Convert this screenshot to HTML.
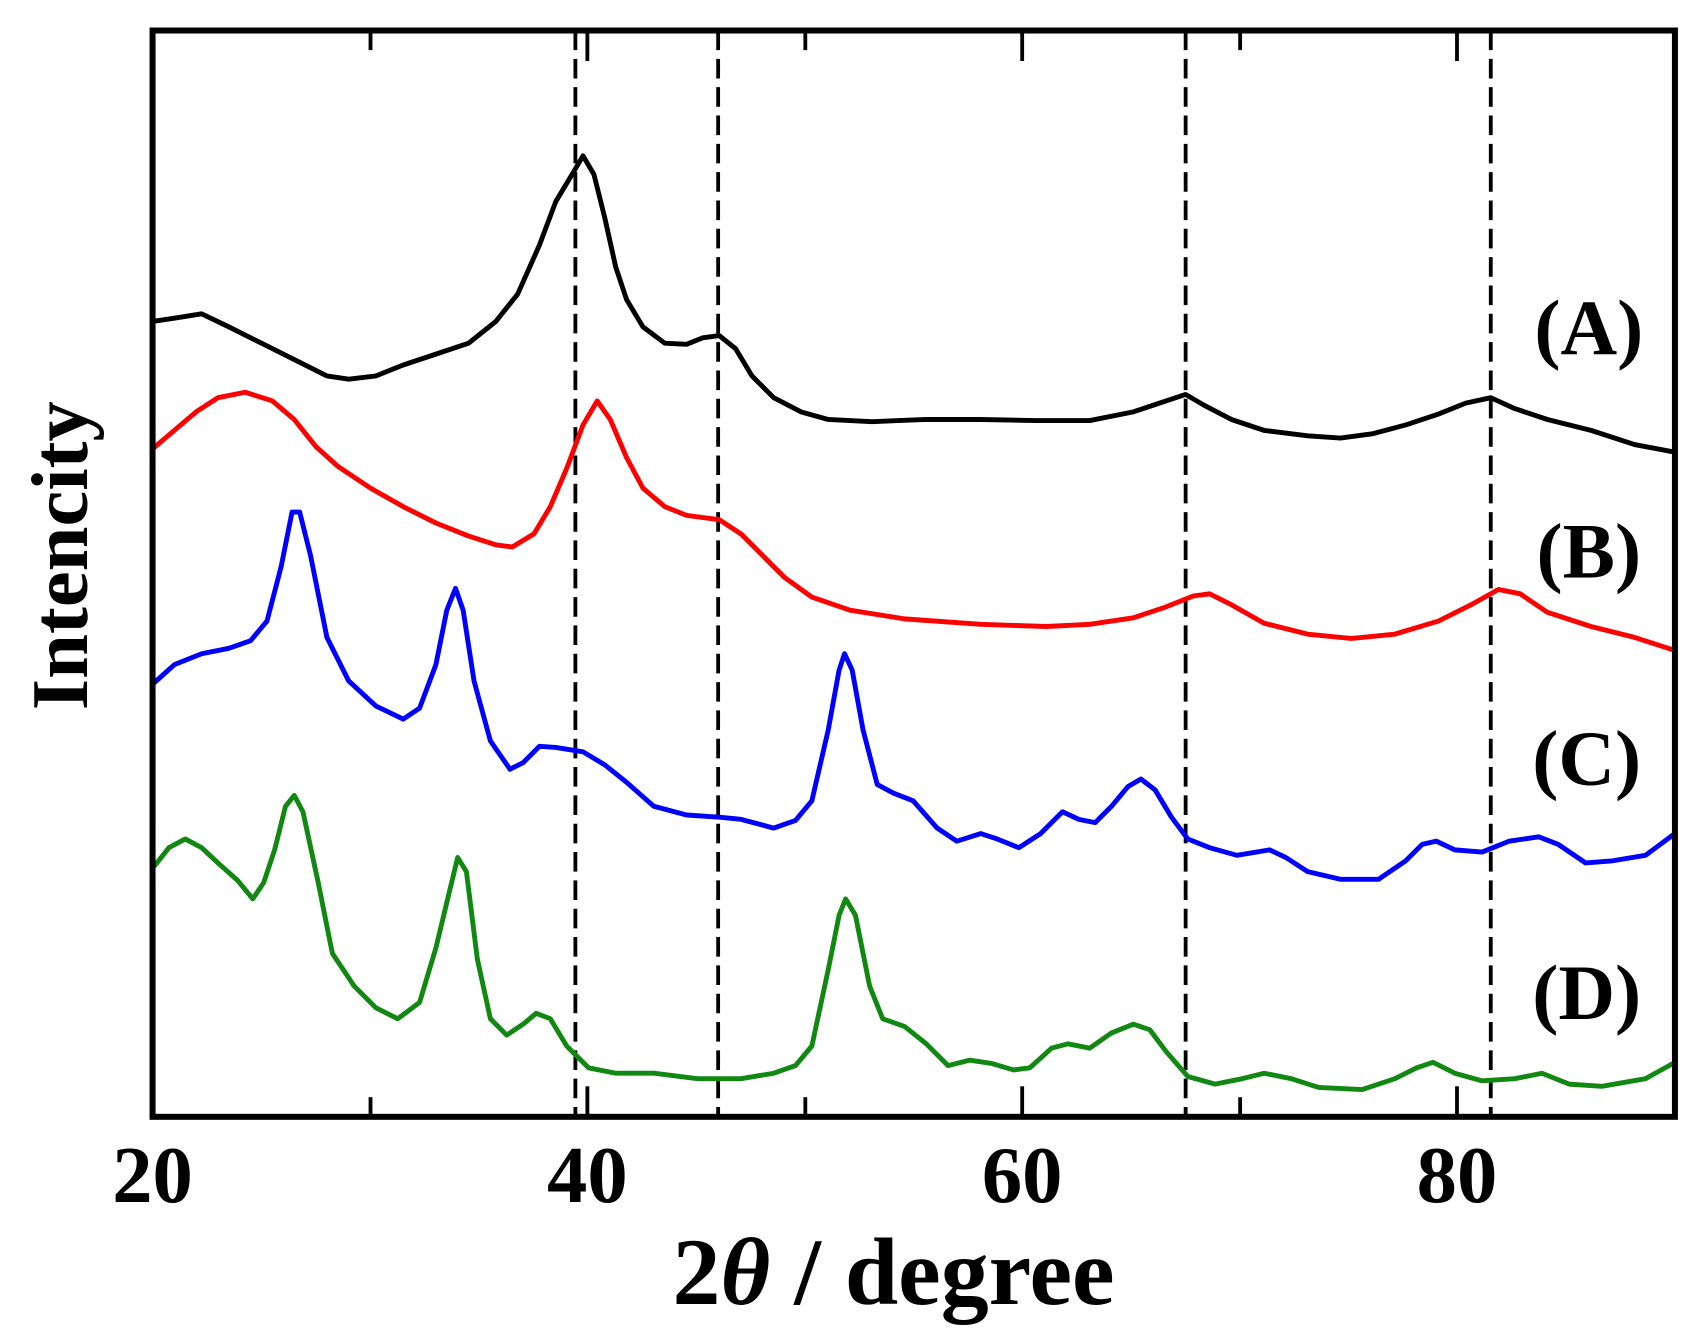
<!DOCTYPE html>
<html><head><meta charset="utf-8"><style>html,body{margin:0;padding:0;background:#fff}svg{display:block}</style></head>
<body>
<svg width="1700" height="1338" viewBox="0 0 1560 1228" preserveAspectRatio="none" xmlns="http://www.w3.org/2000/svg">
<rect x="0" y="0" width="1560" height="1228" fill="#fff"/>
<g stroke="#000" stroke-width="3.5" stroke-dasharray="18,8" fill="none">
<line x1="528" y1="28" x2="528" y2="1025"/>
<line x1="659" y1="28" x2="659" y2="1025"/>
<line x1="1088" y1="28" x2="1088" y2="1025"/>
<line x1="1368" y1="28" x2="1368" y2="1025"/>
</g>
<g fill="none" stroke-width="4.5" stroke-linejoin="round">
<polyline stroke="#000" points="140,295 160,292 185,288 210,300 240,315 270,330 300,345 320,348 345,345 370,335 400,325 430,315 455,295 475,270 495,225 510,185 525,160 535,143 545,160 555,200 565,245 575,275 590,300 610,315 630,316 645,310 660,308 675,320 690,345 710,365 735,378 760,385 800,387 850,385 900,385 950,386 1000,386 1040,378 1070,368 1088,362 1105,372 1130,385 1160,395 1200,400 1230,402 1260,398 1290,390 1320,380 1345,370 1368,365 1390,375 1420,385 1460,395 1500,408 1537,415"/>
<polyline stroke="#f00" points="140,412 160,395 180,378 200,365 225,360 250,368 270,385 290,410 310,428 340,448 370,465 400,480 430,492 455,500 470,502 490,490 505,465 520,430 535,390 548,368 560,385 575,420 590,448 610,465 630,473 660,477 680,490 700,510 720,530 745,548 780,560 830,568 900,573 960,575 1000,573 1040,567 1070,557 1095,547 1110,545 1130,555 1160,572 1200,582 1240,586 1280,582 1320,570 1350,555 1375,541 1395,545 1420,562 1460,575 1500,585 1537,597"/>
<polyline stroke="#00f" points="140,628 160,610 185,600 210,595 230,588 245,570 258,520 268,470 275,470 285,510 300,585 320,625 345,648 370,660 385,650 400,610 410,560 418,540 425,560 435,625 450,680 468,706 480,700 495,685 510,686 535,690 555,702 575,718 600,740 630,748 660,750 680,752 710,760 730,753 745,735 760,670 770,615 775,600 782,615 792,670 805,720 820,728 838,735 860,760 878,772 900,765 915,770 935,778 955,765 975,745 990,752 1005,755 1020,740 1035,722 1047,715 1060,725 1075,750 1090,770 1110,778 1135,785 1165,780 1180,787 1200,800 1230,807 1265,807 1290,790 1305,775 1318,772 1335,780 1360,782 1385,772 1412,768 1430,775 1455,792 1480,790 1510,785 1537,765"/>
<polyline stroke="#118811" points="140,797 155,778 170,770 185,778 200,792 218,808 232,825 242,810 252,780 262,740 270,730 278,745 292,810 305,875 325,905 345,925 365,935 385,920 400,870 412,820 420,787 428,800 438,880 450,935 465,950 480,940 492,930 505,935 520,960 540,980 565,985 600,985 640,990 680,990 710,985 730,978 745,960 760,890 770,840 776,825 785,840 798,905 810,935 830,942 850,958 870,978 890,973 910,976 930,982 945,980 965,962 980,958 1000,962 1020,948 1040,940 1055,945 1070,965 1090,988 1115,995 1140,990 1160,985 1185,990 1210,998 1250,1000 1280,990 1300,980 1315,975 1335,985 1360,992 1390,990 1415,985 1440,995 1470,997 1510,990 1537,975"/>
</g>
<rect x="140" y="28" width="1397" height="997" fill="none" stroke="#000" stroke-width="5.5"/>
<g stroke="#000" stroke-width="3.5">
<line x1="340" y1="1025" x2="340" y2="1007"/><line x1="539" y1="1025" x2="539" y2="997"/><line x1="739" y1="1025" x2="739" y2="1007"/><line x1="938" y1="1025" x2="938" y2="997"/><line x1="1138" y1="1025" x2="1138" y2="1007"/><line x1="1337" y1="1025" x2="1337" y2="997"/>
<line x1="340" y1="28" x2="340" y2="46"/><line x1="539" y1="28" x2="539" y2="56"/><line x1="739" y1="28" x2="739" y2="46"/><line x1="938" y1="28" x2="938" y2="56"/><line x1="1138" y1="28" x2="1138" y2="46"/><line x1="1337" y1="28" x2="1337" y2="56"/>
</g>
<g font-family="Liberation Serif, serif" font-weight="bold" fill="#000">
<g font-size="74" text-anchor="middle">
<text x="140" y="1103">20</text><text x="539" y="1103">40</text><text x="938" y="1103">60</text><text x="1337" y="1103">80</text>
</g>
<text x="820" y="1197" font-size="88" text-anchor="middle">2<tspan font-style="italic">θ</tspan> / degree</text>
<text transform="translate(80,510) rotate(-90)" font-size="74" text-anchor="middle">Intencity</text>
<g font-size="72" text-anchor="middle">
<text x="1458" y="325">(A)</text><text x="1458" y="530">(B)</text><text x="1456" y="720">(C)</text><text x="1456" y="935">(D)</text>
</g>
</g>
</svg>
</body></html>
